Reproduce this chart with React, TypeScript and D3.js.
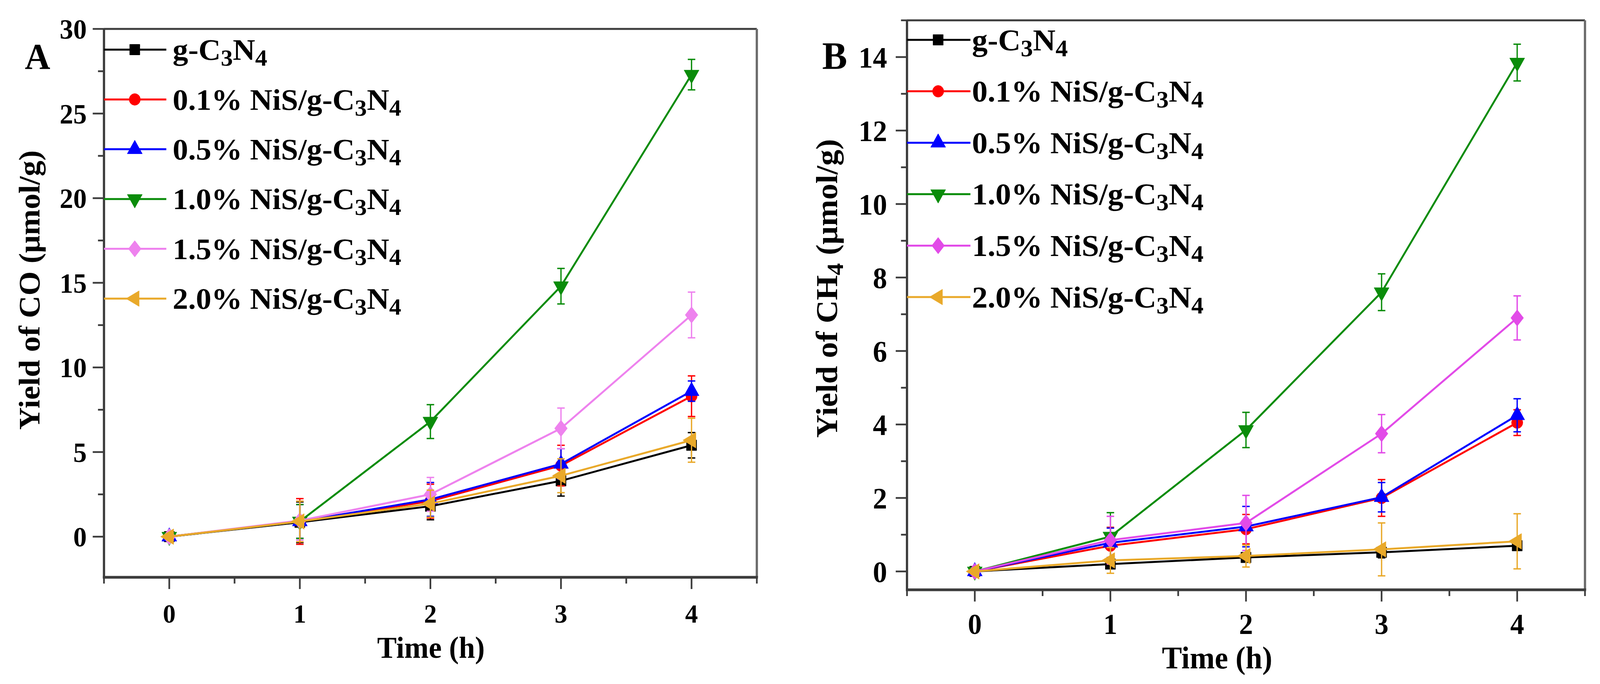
import React from "react";
import * as d3 from "d3";

// ---------- data ----------
const times = [0, 1, 2, 3, 4];
const timeTicks = [0, 1, 2, 3, 4];
const coTicks = [0, 5, 10, 15, 20, 25, 30];
const ch4Ticks = [0, 2, 4, 6, 8, 10, 12, 14];
const samplePrefixes = ["", "0.1% NiS/", "0.5% NiS/", "1.0% NiS/", "1.5% NiS/", "2.0% NiS/"];
const markerShapes = ["square", "circle", "triangleUp", "triangleDown", "diamond", "triangleLeft"];
const colorsA = ["#000000", "#ff0000", "#0000ff", "#0a8c0a", "#ee82ee", "#e9a92a"];
const colorsB = ["#000000", "#ff0000", "#0000ff", "#0a8c0a", "#e24be8", "#e9a92a"];

// CO yield (µmol/g)
const coGC3N4 = [0, 0.85, 1.8, 3.3, 5.4];
const co01 = [0, 0.9, 2.1, 4.2, 8.3];
const co05 = [0, 0.9, 2.2, 4.3, 8.6];
const co10 = [0, 0.9, 6.8, 14.8, 27.3];
const co15 = [0, 0.95, 2.5, 6.4, 13.1];
const co20 = [0, 0.9, 1.95, 3.6, 5.7];
const coErrGC3N4 = [0, 1.2, 0.8, 0.9, 0.75];
const coErr01 = [0, 1.35, 1.0, 1.2, 1.2];
const coErr05 = [0, 1.0, 1.0, 0.9, 0.6];
const coErr10 = [0, 1.0, 1.0, 1.05, 0.9];
const coErr15 = [0, 1.15, 1.0, 1.2, 1.35];
const coErr20 = [0, 1.2, 0.8, 1.0, 1.3];

// CH4 yield (µmol/g)
const ch4GC3N4 = [0, 0.2, 0.38, 0.52, 0.7];
const ch401 = [0, 0.7, 1.15, 2.0, 4.05];
const ch405 = [0, 0.78, 1.22, 2.02, 4.25];
const ch410 = [0, 0.95, 3.85, 7.6, 13.85];
const ch415 = [0, 0.85, 1.32, 3.75, 6.9];
const ch420 = [0, 0.3, 0.42, 0.6, 0.82];
const ch4ErrGC3N4 = [0, 0.12, 0.12, 0.15, 0.1];
const ch4Err01 = [0, 0.5, 0.4, 0.5, 0.35];
const ch4Err05 = [0, 0.4, 0.55, 0.4, 0.45];
const ch4Err10 = [0, 0.65, 0.48, 0.5, 0.5];
const ch4Err15 = [0, 0.65, 0.75, 0.52, 0.6];
const ch4Err20 = [0, 0.35, 0.3, 0.72, 0.75];

const coSeries = [coGC3N4, co01, co05, co10, co15, co20];
const coErrors = [coErrGC3N4, coErr01, coErr05, coErr10, coErr15, coErr20];
const ch4Series = [ch4GC3N4, ch401, ch405, ch410, ch415, ch420];
const ch4Errors = [ch4ErrGC3N4, ch4Err01, ch4Err05, ch4Err10, ch4Err15, ch4Err20];

const FONT = "'Liberation Serif', 'Times New Roman', Times, serif";
const AXIS = "#3c3c3c";

function Marker({ shape, cx, cy, color }: { shape: string; cx: number; cy: number; color: string }) {
  let d = "";
  let rot = 0;
  if (shape === "square") d = d3.symbol(d3.symbolSquare, 27 * 27)() as string;
  else if (shape === "circle") d = d3.symbol(d3.symbolCircle, Math.PI * 15 * 15)() as string;
  else if (shape === "diamond") d = "M0,-21L17,0L0,21L-17,0Z";
  else {
    d = d3.symbol(d3.symbolTriangle, (40 * 40 * Math.sqrt(3)) / 4)() as string;
    rot = shape === "triangleDown" ? 180 : shape === "triangleLeft" ? -90 : 0;
  }
  return <path d={d} transform={`translate(${cx},${cy}) rotate(${rot})`} fill={color} stroke={color} strokeWidth={1} />;
}

function Formula({ prefix, sub, subFs }: { prefix: string; sub: number; subFs: number }) {
  return (
    <>
      {prefix}g-C
      <tspan dy={sub} fontSize={subFs}>3</tspan>
      <tspan dy={-sub}>N</tspan>
      <tspan dy={sub} fontSize={subFs}>4</tspan>
    </>
  );
}

type PanelCfg = {
  left: number; right: number; top: number; bottom: number;
  yDomain: [number, number];
  yTicks: number[]; yMinor: number[];
  series: number[][]; errors: number[][]; colors: string[];
  yTickFs: number; yTickX: number;
  xTickFs: number; xTickY: number;
  xTitleX: number; xTitleY: number; xTitleFs: number;
  yTitleX: number; yTitleY: number; yTitleFs: number; yTitle: React.ReactNode;
  letter: string; letterX: number; letterY: number; letterFs: number;
  legX0: number; legX1: number; legMarkX: number; legTextX: number; legY0: number; legDy: number; legFs: number;
};

function Panel({ c }: { c: PanelCfg }) {
  const x = d3.scaleLinear().domain([-0.5, 4.5]).range([c.left, c.right]);
  const y = d3.scaleLinear().domain(c.yDomain).range([c.bottom, c.top]);
  const line = d3.line<number>().x((_, i) => x(times[i])).y((v) => y(v));
  const xMinor = d3.range(-0.5, 4.51, 1);
  const majorLen = 30;
  const minorLen = 16;
  return (
    <g fontFamily={FONT} fontWeight="bold">
      {/* frame */}
      <line x1={c.left} x2={c.right} y1={c.top} y2={c.top} stroke={AXIS} strokeWidth={5} />
      <line x1={c.right} x2={c.right} y1={c.top} y2={c.bottom} stroke="#6a6a6a" strokeWidth={6} />
      <line x1={c.left} x2={c.left} y1={c.top - 2} y2={c.bottom + 3} stroke={AXIS} strokeWidth={6} />
      <line x1={c.left - 3} x2={c.right + 3} y1={c.bottom} y2={c.bottom} stroke={AXIS} strokeWidth={7} />
      {/* y ticks */}
      {c.yTicks.map((t) => (
        <g key={"yt" + t}>
          <line x1={c.left - majorLen} x2={c.left} y1={y(t)} y2={y(t)} stroke={AXIS} strokeWidth={4.5} />
          <text x={c.yTickX} y={y(t)} dy="0.35em" textAnchor="end" fontSize={c.yTickFs}>{t}</text>
        </g>
      ))}
      {c.yMinor.map((t) => (
        <line key={"ym" + t} x1={c.left - minorLen} x2={c.left} y1={y(t)} y2={y(t)} stroke={AXIS} strokeWidth={4.5} />
      ))}
      {/* x ticks */}
      {timeTicks.map((t) => (
        <g key={"xt" + t}>
          <line x1={x(t)} x2={x(t)} y1={c.bottom} y2={c.bottom + majorLen} stroke={AXIS} strokeWidth={4.5} />
          <text x={x(t)} y={c.xTickY} textAnchor="middle" fontSize={c.xTickFs}>{t}</text>
        </g>
      ))}
      {xMinor.map((t) => (
        <line key={"xm" + t} x1={x(t)} x2={x(t)} y1={c.bottom} y2={c.bottom + minorLen} stroke={AXIS} strokeWidth={4.5} />
      ))}
      {/* titles */}
      <text x={c.xTitleX} y={c.xTitleY} textAnchor="middle" fontSize={c.xTitleFs}>Time (h)</text>
      <text transform={`translate(${c.yTitleX},${c.yTitleY}) rotate(-90)`} textAnchor="middle" fontSize={c.yTitleFs}>
        {c.yTitle}
      </text>
      <text x={c.letterX} y={c.letterY} fontSize={c.letterFs}>{c.letter}</text>
      {/* series */}
      {c.series.map((vals, si) => (
        <g key={"s" + si}>
          <path d={line(vals) as string} fill="none" stroke={c.colors[si]} strokeWidth={5} strokeLinejoin="round" />
          {vals.map((v, i) =>
            c.errors[si][i] > 0 ? (
              <g key={"e" + i} stroke={c.colors[si]} strokeWidth={3.5}>
                <line x1={x(times[i])} x2={x(times[i])} y1={y(v + c.errors[si][i])} y2={y(v - c.errors[si][i])} />
                <line x1={x(times[i]) - 10} x2={x(times[i]) + 10} y1={y(v + c.errors[si][i])} y2={y(v + c.errors[si][i])} />
                <line x1={x(times[i]) - 10} x2={x(times[i]) + 10} y1={y(v - c.errors[si][i])} y2={y(v - c.errors[si][i])} />
              </g>
            ) : null
          )}
          {vals.map((v, i) => (
            <Marker key={"m" + i} shape={markerShapes[si]} cx={x(times[i])} cy={y(v)} color={c.colors[si]} />
          ))}
        </g>
      ))}
      {/* legend */}
      {samplePrefixes.map((p, i) => {
        const ly = c.legY0 + i * c.legDy;
        return (
          <g key={"l" + i}>
            <line x1={c.legX0} x2={c.legX1} y1={ly} y2={ly} stroke={c.colors[i]} strokeWidth={5} />
            <Marker shape={markerShapes[i]} cx={c.legMarkX} cy={ly} color={c.colors[i]} />
            <text transform={`translate(${c.legTextX},${ly}) scale(1.07,1)`} dy="0.34em" fontSize={c.legFs}>
              <Formula prefix={p} sub={15} subFs={Math.round(c.legFs * 0.78)} />
            </text>
          </g>
        );
      })}
    </g>
  );
}

const panelA: PanelCfg = {
  left: 277, right: 2016, top: 74, bottom: 1477,
  yDomain: [-2.4, 30],
  yTicks: coTicks, yMinor: [2.5, 7.5, 12.5, 17.5, 22.5, 27.5],
  series: coSeries, errors: coErrors, colors: colorsA,
  yTickFs: 72, yTickX: 231,
  xTickFs: 68, xTickY: 1593,
  xTitleX: 1148, xTitleY: 1683, xTitleFs: 78,
  yTitleX: 105, yTitleY: 742, yTitleFs: 80, yTitle: "Yield of CO (μmol/g)",
  letter: "A", letterX: 66, letterY: 176, letterFs: 94,
  legX0: 277, legX1: 443, legMarkX: 359, legTextX: 460, legY0: 127, legDy: 127.4, legFs: 77,
};

const panelB: PanelCfg = {
  left: 2416, right: 4222, top: 52, bottom: 1509,
  yDomain: [-0.5, 15],
  yTicks: ch4Ticks, yMinor: [1, 3, 5, 7, 9, 11, 13, 15],
  series: ch4Series, errors: ch4Errors, colors: colorsB,
  yTickFs: 76, yTickX: 2363,
  xTickFs: 74, xTickY: 1622,
  xTitleX: 3242, xTitleY: 1710, xTitleFs: 80,
  yTitleX: 2230, yTitleY: 738, yTitleFs: 82,
  yTitle: (
    <>
      Yield of CH<tspan dy={15} fontSize={62}>4</tspan>
      <tspan dy={-15}> (μmol/g)</tspan>
    </>
  ),
  letter: "B", letterX: 2190, letterY: 176, letterFs: 100,
  legX0: 2416, legX1: 2585, legMarkX: 2499, legTextX: 2589, legY0: 102, legDy: 131.6, legFs: 78,
};

export default function App() {
  return (
    <svg
      viewBox="0 0 4262 1750"
      preserveAspectRatio="none"
      style={{ position: "fixed", left: 0, top: 0, width: "100vw", height: "100vh", background: "#ffffff", display: "block" }}
    >
      <rect x={0} y={0} width={4262} height={1750} fill="#ffffff" />
      <Panel c={panelA} />
      <Panel c={panelB} />
    </svg>
  );
}
